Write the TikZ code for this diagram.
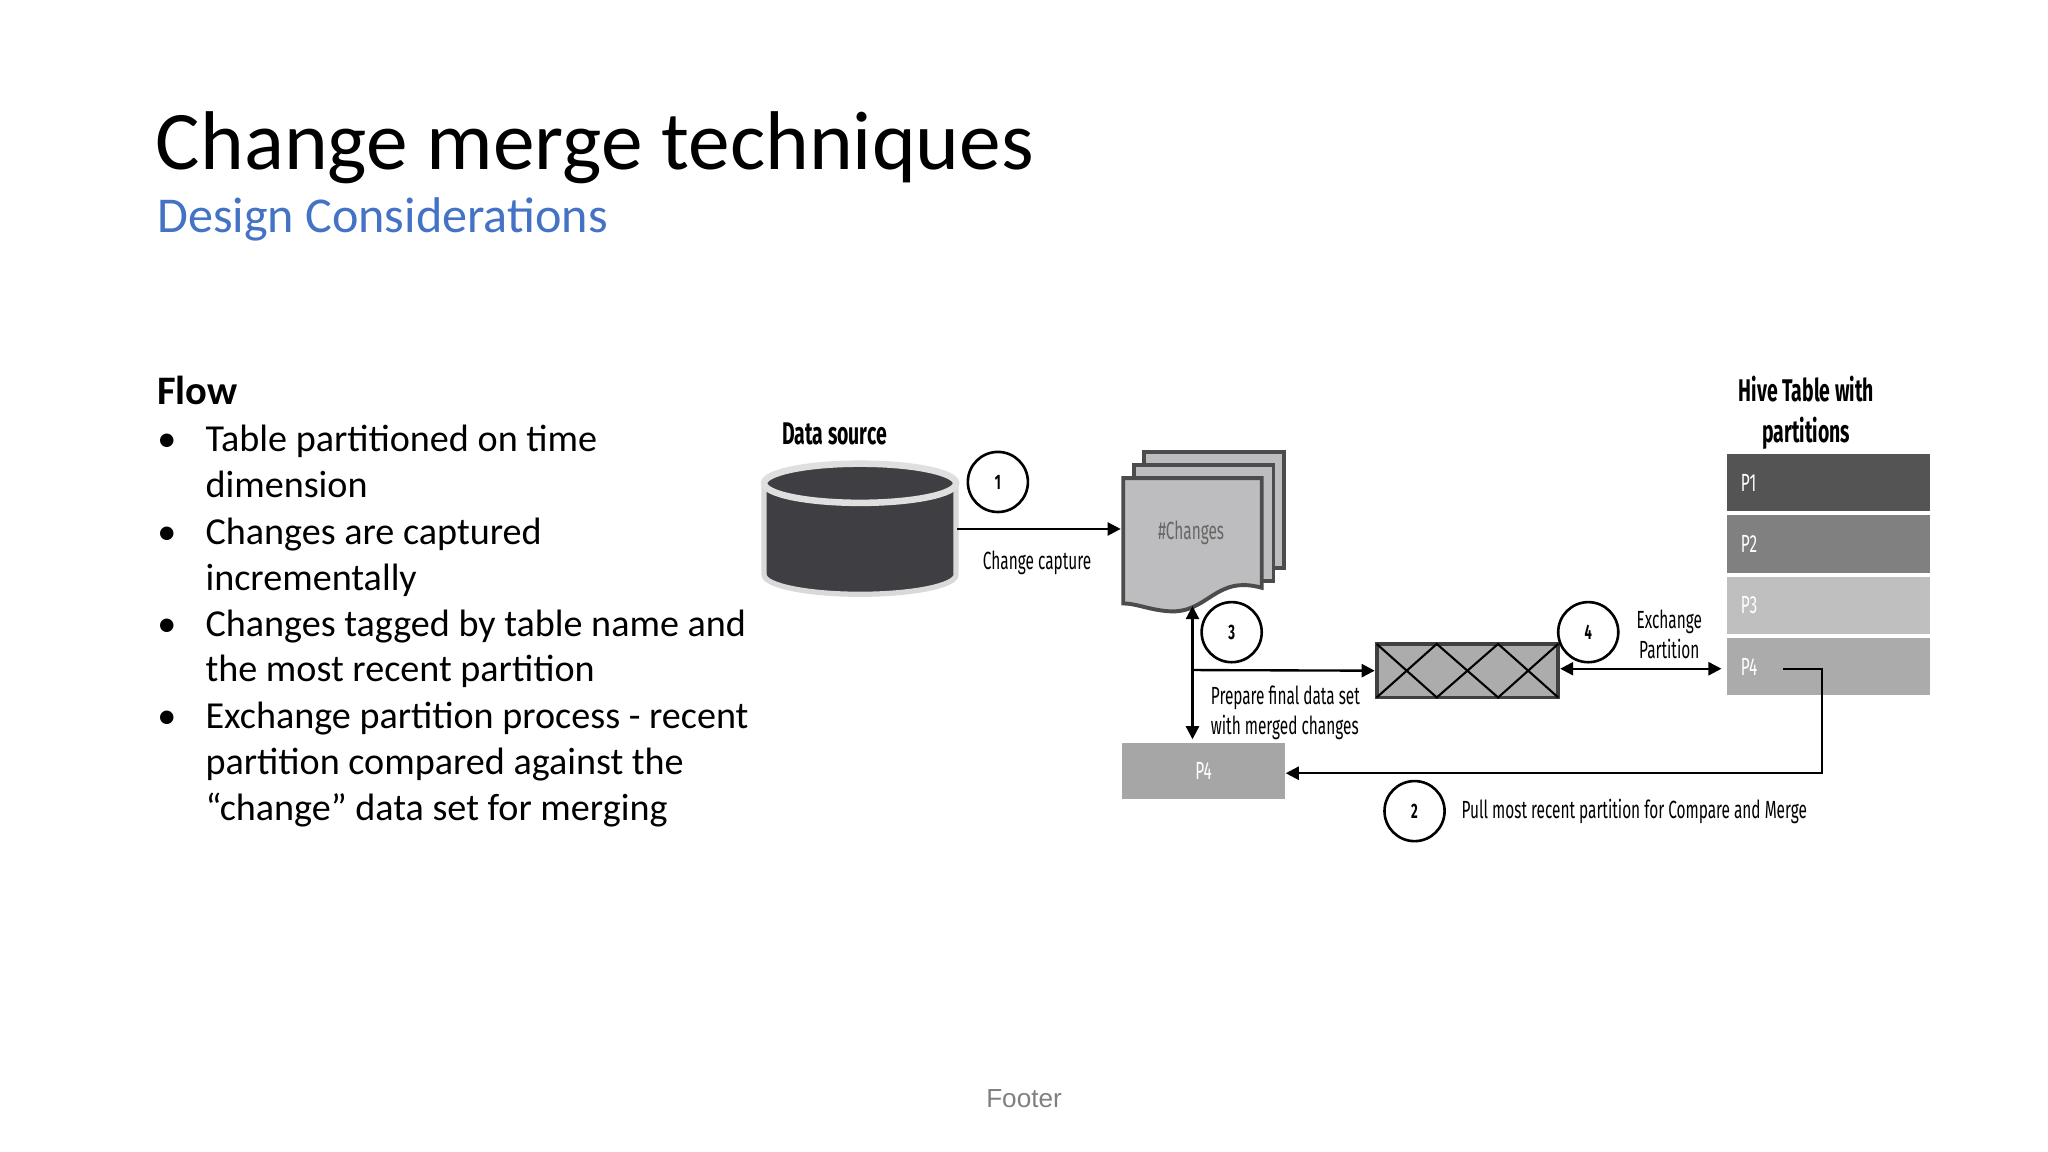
\documentclass[tikz,border=0pt]{standalone}
\usepackage{fontspec}
\setmainfont{Carlito}
\newfontfamily\cond[FakeStretch=0.62]{Fira Sans}
\newfontfamily\footf{Liberation Sans}
\usetikzlibrary{arrows.meta}
\definecolor{blue1}{HTML}{4472C4}
\definecolor{dark}{HTML}{3F3E42}
\definecolor{docfill}{HTML}{BDBDBF}
\begin{document}
\begin{tikzpicture}[x=0.5pt,y=-0.5pt,
  num/.style={circle,draw,line width=1pt,minimum size=23pt,inner sep=0,font=\cond\bfseries\fontsize{8}{9}\selectfont,fill=white},
  lbl/.style={font=\cond\fontsize{9.5}{11.5}\selectfont,align=left},
  arr/.style={-{Triangle[length=5pt,width=5pt]},line width=0.9pt},
  bul/.style={anchor=base west,inner sep=0,font=\fontsize{14.6}{17}\selectfont},
  part/.style={minimum width=77.5pt,minimum height=22pt,inner sep=0,anchor=north west,text=white,font=\cond\fontsize{9.5}{10}\selectfont,align=left,text width=67pt}]
\path[use as bounding box,fill=white] (0,0) rectangle (1568,882);
% titles
\node[anchor=base west,inner sep=0,font=\fontsize{31.9}{36}\selectfont] (title) at (119,130) {Change merge techniques};
\node[anchor=base west,inner sep=0,text=blue1,font=\fontsize{19.2}{22}\selectfont] (sub) at (120,178) {Design Considerations};
\node[anchor=base west,inner sep=0,font=\bfseries\fontsize{15.5}{18}\selectfont] (flow) at (120,310) {Flow};
\foreach \y/\t/\b in {346/Table partitioned on time/1, 381/dimension/0, 417/Changes are captured/1, 452/incrementally/0, 487/Changes tagged by table name and/1, 522/the most recent partition/0, 558/Exchange partition process - recent/1, 593/partition compared against the/0, 628/“change” data set for merging/0}{
  \node[bul] at (157,\y) {\t};
  \ifnum\b=1 \node[bul] at (120,\y) {•};\fi
}
\node[font=\footf\fontsize{10}{12}\selectfont,text=gray] (footer) at (784,841) {Footer};
% data source
\node[font=\cond\bfseries\fontsize{12}{13}\selectfont] (dslbl) at (639,332) {Data source};
\draw[fill=dark,draw=gray!30,line width=2pt] (585,370) -- (585,440) arc[start angle=180,end angle=0,x radius=73.5,y radius=15] -- (732,370);
\draw[fill=dark,draw=gray!25,line width=2.5pt] (658.5,370) ellipse[x radius=73.5,y radius=15];
\coordinate (dsr) at (733,405);
\node[num] (c1) at (764,369) {1};
% document stack
\begin{scope}[line width=1.5pt,draw=black!70,fill=docfill]
\draw[fill=docfill] (876,346) rectangle (983,435);
\draw[fill=docfill] (868,356) rectangle (975,445);
\draw[fill=docfill] (860,366) -- (966,366) -- (966,450) .. controls (930,440) and (925,470) .. (895,468) .. controls (880,467) and (870,462) .. (860,462) -- cycle;
\end{scope}
\node[text=black!60,font=\cond\fontsize{9.5}{10}\selectfont] (doc) at (912,408) {\#Changes};
\coordinate (docl) at (858,405);
\draw[arr] (dsr) -- (docl);
\node[lbl] (cc) at (794,431) {Change capture};
% crossed box
\node[draw=black!75,fill=gray!65,line width=1.5pt,minimum width=69.5pt,minimum height=20.5pt,inner sep=0] (xb) at (1123.5,513.5) {};
\draw[line width=0.8pt] (1054,493) -- (1100,534) -- (1147,493) -- (1193,534)
      (1054,534) -- (1100,493) -- (1147,534) -- (1193,493);
\node[num] (c3) at (943,484) {3};
\node[num] (c4) at (1216,484) {4};
% partitions
\node[lbl,font=\cond\bfseries\fontsize{12}{15.5}\selectfont,align=center] (hive) at (1383,316) {Hive Table with\\partitions};
\node[part,fill=black!67] (p1) at (1322,347) {P1};
\node[part,fill=black!50] (p2) at (1322,394) {P2};
\node[part,fill=black!25] (p3) at (1322,441) {P3};
\node[part,fill=black!33] (p4) at (1322,488) {P4};
\node[lbl,align=center] (exch) at (1278,486) {Exchange\\Partition};
% P4 copy
\node[fill=black!35,minimum width=62.5pt,minimum height=21.5pt,inner sep=0,text=white,font=\cond\fontsize{9.5}{10}\selectfont] (p4c) at (921.5,590.5) {P4};
% connectors
\coordinate (vt) at (913,464);
\coordinate (vb) at (913,566);
\coordinate (vm) at (913,513);
\draw[arr,{Triangle[length=5pt,width=5pt]}-{Triangle[length=5pt,width=5pt]}] (vt) -- (vb);
\draw[arr] (vm) -- (xb.west);
\draw[arr,{Triangle[length=5pt,width=5pt]}-{Triangle[length=5pt,width=5pt]}] (xb.east |- 0,512) -- (1318,512);
\coordinate (p4s) at (1365,512);
\draw[arr] (p4s) -- (1395,512) -- (1395,592) -- (p4c.east |- 0,592);
\node[lbl,anchor=west] (prep) at (920,546) {Prepare final data set\\with merged changes};
\node[num] (c2) at (1083,621) {2};
\node[lbl,anchor=west] (pull) at (1112,621) {Pull most recent partition for Compare and Merge};
\end{tikzpicture}
\end{document}
